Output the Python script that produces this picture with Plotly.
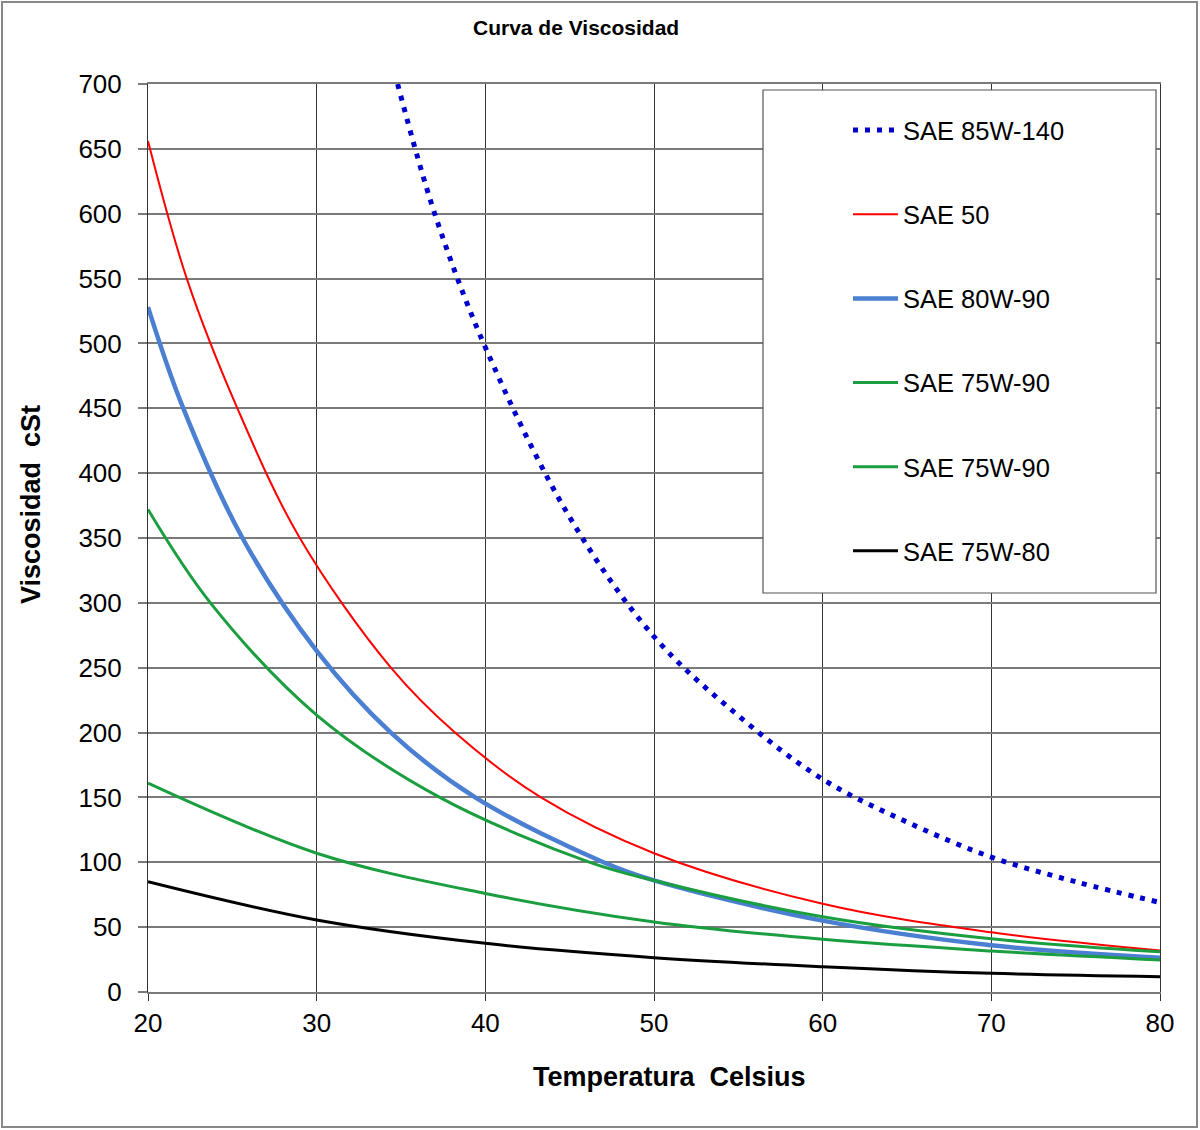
import plotly.graph_objects as go

# ---- data ----
t_85w140 = [34.8, 37, 40, 45, 50, 55, 60, 65, 70, 75, 80]
v_85w140 = [700, 600, 497, 366, 274, 213, 164, 131, 104, 85, 69]

t_sae50 = [20, 22.3, 25.3, 29, 34.4, 38.2, 43.3, 50, 60, 70, 80]
v_sae50 = [656, 550, 450, 350, 250, 200, 150, 107, 68, 46, 32]

t_80w90 = [20, 22, 25.6, 30, 34.4, 39.4, 47, 50, 60, 70, 80]
v_80w90 = [528, 453, 350, 263, 200, 150, 100, 86, 55, 36, 26.5]

t_75w90a = [20, 23.7, 30, 37.3, 46.2, 50, 60, 70, 80]
v_75w90a = [372, 300, 213.5, 150, 100, 86, 58, 41, 31]

t_75w90b = [20, 30, 40, 50, 60, 70, 80]
v_75w90b = [161, 107, 76, 54, 40.6, 31.6, 24.7]

t_75w80 = [20, 30, 40, 50, 60, 70, 80]
v_75w80 = [85, 55.5, 37.5, 26.5, 19.5, 14.4, 11.8]

x_ticks = [20, 30, 40, 50, 60, 70, 80]
y_ticks = list(range(0, 701, 50))

FONT = "Liberation Sans, Arial, sans-serif"

series = [
    ("SAE 85W-140", t_85w140, v_85w140, dict(color="#0000cc", width=5, dash="5px,7px")),
    ("SAE 50", t_sae50, v_sae50, dict(color="#ff0000", width=2)),
    ("SAE 80W-90", t_80w90, v_80w90, dict(color="#4a7fd2", width=4.5)),
    ("SAE 75W-90", t_75w90a, v_75w90a, dict(color="#1a9e3f", width=3)),
    ("SAE 75W-90", t_75w90b, v_75w90b, dict(color="#1a9e3f", width=3)),
    ("SAE 75W-80", t_75w80, v_75w80, dict(color="#000000", width=3)),
]

fig = go.Figure()
for i, (name, xs, ys, line) in enumerate(series):
    fig.add_trace(go.Scatter(
        x=xs, y=ys, mode="lines", name=name, legendgroup=f"g{i}",
        line=dict(shape="spline", smoothing=1.0, **line),
    ))

# plot area: x 148..1160, y 84..992
L, R, T, B = 148, 1160, 84, 992
W, H = 1200, 1130
def px(xp):
    return (xp - L) / (R - L)
def py(yp):
    return (B - yp) / (B - T)

fig.update_layout(
    width=W, height=H,
    margin=dict(l=L, r=W - R, t=T, b=H - B, pad=0),
    paper_bgcolor="white", plot_bgcolor="white",
    font=dict(family=FONT, color="black"),
    showlegend=True,
    legend=dict(
        x=px(848), y=py(107), xanchor="left", yanchor="top",
        bgcolor="rgba(0,0,0,0)", borderwidth=0,
        font=dict(size=25.5, family=FONT, color="black"),
        traceorder="grouped", tracegroupgap=48,
        itemwidth=45,
    ),
    shapes=[
        dict(type="rect", xref="paper", yref="paper",
             x0=px(763), x1=px(1156), y0=py(593), y1=py(90),
             line=dict(color="#555555", width=1.2), fillcolor="white", layer="above"),
        dict(type="rect", xref="paper", yref="paper",
             x0=px(2), x1=px(1197), y0=py(1127), y1=py(2),
             line=dict(color="#888888", width=2), fillcolor="rgba(0,0,0,0)", layer="above"),
    ],
    annotations=[
        dict(text="<b>Curva de Viscosidad</b>", x=px(576), y=py(27), xref="paper", yref="paper",
             showarrow=False, font=dict(size=21, family=FONT), xanchor="center", yanchor="middle"),
        dict(text="<b>Temperatura\u00a0 Celsius</b>", x=px(669), y=py(1077), xref="paper", yref="paper",
             showarrow=False, font=dict(size=27, family=FONT), xanchor="center", yanchor="middle"),
        dict(text="<b>Viscosidad\u00a0 cSt</b>", x=px(31), y=py(505), xref="paper", yref="paper",
             showarrow=False, font=dict(size=27, family=FONT), xanchor="center", yanchor="middle",
             textangle=-90),
    ],
)

fig.update_xaxes(
    range=[20, 80], tickvals=x_ticks, ticktext=[str(v) for v in x_ticks],
    showgrid=True, gridcolor="#333333", gridwidth=1,
    showline=True, linecolor="#7a7a7a", linewidth=2, mirror=True,
    ticks="outside", ticklen=7, tickcolor="#333333", tickwidth=1,
    tickfont=dict(size=26, family=FONT), ticklabelstandoff=0,
    zeroline=False,
)
fig.update_yaxes(
    range=[0, 700], tickvals=y_ticks, ticktext=[str(v) for v in y_ticks],
    showgrid=True, gridcolor="#7a7a7a", gridwidth=2,
    showline=True, linecolor="#333333", linewidth=1, mirror=True,
    ticks="outside", ticklen=9, tickcolor="#7a7a7a", tickwidth=2,
    tickfont=dict(size=26, family=FONT), ticklabelstandoff=11,
    zeroline=False,
)

fig.write_html(
    "out.html",
    config={"displayModeBar": False},
    post_script="document.body.style.margin='0';document.body.style.overflow='hidden';",
)
